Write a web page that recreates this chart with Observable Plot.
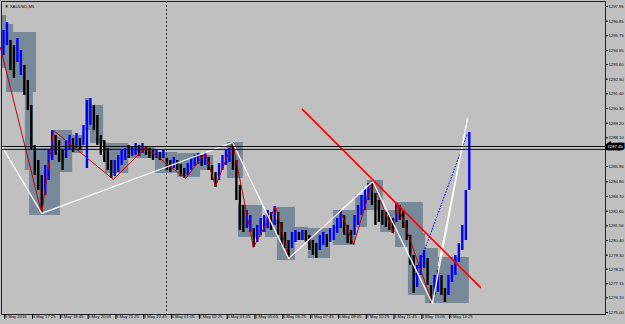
<!DOCTYPE html>
<html><head><meta charset="utf-8">
<script src="https://cdn.jsdelivr.net/npm/d3@7"></script>
<script src="https://cdn.jsdelivr.net/npm/@observablehq/plot@0.6"></script>
<style>
html,body{margin:0;padding:0;background:#c0c0c0;overflow:hidden;}
</style></head>
<body><div id="chart"></div>
<script>
// ---- data (XAUUSD M5, 2-bar aggregated) ----
const barHigh = [1296.15,1296.75,1295.40,1295.03,1295.55,1294.65,1293.53,1292.40,1290.53,1287.53,
1286.40,1285.28,1286.03,1287.15,1288.65,1288.28,1287.90,1287.15,1287.90,1288.28,
1288.05,1288.43,1288.05,1289.03,1290.90,1291.05,1290.53,1289.78,1288.28,1287.90,
1287.30,1286.40,1286.40,1286.78,1287.15,1287.30,1287.53,1287.45,1287.68,1287.53,
1287.68,1287.45,1287.30,1287.15,1287.23,1287.00,1287.15,1286.55,1286.40,1286.63,
1286.40,1286.10,1285.80,1286.18,1286.55,1286.78,1286.93,1286.78,1287.00,1286.63,
1286.03,1285.50,1286.18,1286.78,1287.15,1287.30,1287.75,1286.40,1284.53,1283.03,
1282.65,1282.28,1281.30,1281.53,1282.05,1282.28,1282.65,1282.50,1282.95,1282.50,
1281.75,1281.00,1280.40,1281.00,1281.15,1281.00,1281.15,1281.15,1280.78,1280.40,
1280.18,1280.78,1281.00,1280.85,1281.30,1281.53,1282.05,1282.65,1282.28,1281.53,
1281.15,1282.28,1283.03,1283.78,1284.30,1284.68,1284.83,1283.93,1283.40,1282.65,
1282.50,1282.28,1282.05,1283.18,1283.03,1282.65,1281.90,1280.78,1279.28,1278.53,
1279.28,1279.65,1279.05,1277.03,1277.78,1278.15,1277.78,1276.80,1277.78,1278.53,
1279.28,1280.18,1281.53,1284.15,1288.50];
const barLow = [1294.28,1295.03,1293.15,1292.55,1293.75,1292.78,1291.28,1290.15,1287.15,1285.28,
1284.15,1282.43,1283.78,1284.90,1286.40,1286.78,1286.25,1285.65,1286.55,1287.15,
1287.00,1287.30,1287.15,1287.53,1285.80,1289.03,1288.65,1287.53,1286.78,1286.25,
1285.65,1285.05,1285.20,1285.50,1286.03,1286.40,1286.55,1286.70,1286.78,1286.70,
1286.93,1286.78,1286.55,1286.40,1286.55,1286.40,1286.55,1285.65,1285.50,1285.80,
1285.65,1285.20,1285.05,1285.28,1285.65,1285.95,1286.10,1285.95,1286.03,1285.65,
1284.90,1284.38,1284.90,1285.65,1286.03,1286.25,1285.65,1283.40,1281.15,1281.00,
1281.30,1281.00,1279.88,1280.25,1280.78,1281.00,1281.30,1281.15,1281.53,1280.78,
1280.03,1279.80,1279.05,1279.80,1280.25,1280.40,1280.40,1280.25,1279.65,1279.28,
1279.05,1279.65,1280.03,1279.88,1280.25,1280.40,1280.93,1281.30,1280.78,1280.18,
1280.10,1280.78,1281.53,1282.28,1282.65,1283.40,1283.03,1281.53,1281.75,1281.53,
1281.38,1281.15,1280.93,1281.75,1281.90,1281.30,1280.40,1278.53,1276.43,1276.88,
1277.78,1278.30,1277.03,1275.68,1276.28,1276.50,1276.28,1275.75,1276.28,1277.25,
1277.78,1278.75,1279.65,1280.40,1284.15];
const barDir = ("uudduudddd"+"dduuuddduu"+"duduuudddd"+"dduuuuduud"+"udddududdu"+
  "ddduuuudud"+"dduuuudddd"+"uuduuuudud"+"ddduududdd"+"duuduuuudd"+
  "duuuuudddd"+"dddudddddu"+"uudduudduu"+"uuuuu").split("");

// shaded boxes: start bar, end bar, top price, bottom price
const boxStart  = [-0.3,0.9,2.9,6.3,7.5,14.1,18.4,23.6,25.0,29.3,35.7,43.7,50.1,56.1,64.4,67.6,75.4,78.8,84.0,87.7,94.9,101.3,104.7,108.5,112.8,116.5,121.4,125.1];
const boxEnd    = [0.9,2.9,9.5,8.6,16.4,19.9,23.0,25.0,28.8,36.0,43.7,50.1,56.7,60.4,69.0,74.5,78.8,84.0,87.7,94.1,101.3,104.7,109.3,112.8,120.8,121.4,125.1,134.0];
const boxTop    = [1297.28,1296.60,1296.00,1291.65,1287.30,1288.65,1288.28,1291.05,1290.53,1287.68,1287.38,1287.00,1286.93,1286.78,1287.75,1283.03,1281.90,1282.88,1281.38,1281.30,1282.65,1283.78,1284.90,1282.65,1283.25,1280.93,1279.80,1279.13];
const boxBottom = [1293.30,1291.50,1291.50,1285.65,1282.28,1285.50,1286.93,1288.65,1287.68,1285.43,1286.55,1285.43,1285.13,1285.65,1285.05,1280.63,1280.63,1278.90,1280.40,1279.05,1280.03,1281.38,1282.65,1281.00,1279.88,1276.28,1275.68,1275.68];

// zigzags [bar, price]
const zigRed = [[-0.9,1294.88],[11,1282.43],[14.4,1288.65],[31.6,1284.98],[40.9,1287.38],[52.4,1285.05],[58.1,1287.00],[61,1284.45],[65.9,1287.75],[71.9,1279.88],[78.3,1282.95],[82,1279.05],[96.9,1282.65],[100.7,1280.10],[106.2,1284.83],[112.2,1280.93],[113.3,1283.18],[123.4,1275.68]];
const zigWhite = [[-0.3,1287.38],[11,1282.43],[65.9,1287.75],[82,1279.05],[106.2,1284.83],[123.4,1275.68],[133.5,1289.55]];
const whiteLeg2 = [[125.1,1278.53],[133.5,1289.55]];
const blueDotted = [[117.7,1277.25],[133.5,1288.43]];
const trendRed = [[86.0,1290.23],[137.2,1276.88]];
const priceLines = [1287.45,1287.23];
const separatorBar = [46.9];

const yTicks = [1297.95,1296.85,1295.75,1294.65,1293.60,1292.50,1291.40,1290.30,1289.20,1288.10,1285.95,1284.80,1283.70,1282.60,1281.50,1280.40,1279.30,1278.25,1277.15,1276.10,1275.00];
const xTickBars = [0,8,16,24,32,40,48,56,64,72,80,88,96,104,112,120,128];
const xTickLabels = ["3 May 2016","3 May 17:25","3 May 18:45","3 May 20:05","3 May 21:25","3 May 22:45","4 May 01:05","4 May 02:25","4 May 03:45","4 May 05:05","4 May 06:25","4 May 07:45","4 May 09:05","4 May 10:25","4 May 11:45","4 May 13:05","4 May 14:25"];

// ---- build ----
const bars = barHigh.map((h, i) => ({i, hi: h, lo: barLow[i], dir: barDir[i]}));
const boxes = boxStart.map((s, k) => ({x1: s, x2: boxEnd[k], y1: boxTop[k], y2: boxBottom[k]}));
const labelOf = new Map(xTickBars.map((b, k) => [b, xTickLabels[k]]));
const FONT = "'Liberation Sans',Arial,sans-serif";
const FS = 4.2;

const chart = Plot.plot({
  width: 625, height: 324,
  marginLeft: 1, marginRight: 20, marginTop: 1, marginBottom: 10,
  style: {background: "#c0c0c0", fontFamily: FONT, fontSize: FS + "px", color: "#000"},
  x: {type: "linear", domain: [-0.575, 173.19]},
  y: {type: "linear", domain: [1274.85, 1298.325]},
  marks: [
    Plot.rect(boxes, {x1: "x1", x2: "x2", y1: "y1", y2: "y2", fill: "#778899"}),
    Plot.ruleX(separatorBar, {stroke: "#333", strokeDasharray: "2,2", strokeWidth: 1}),
    Plot.ruleX(bars.filter(d => d.dir === "d"), {x: "i", y1: "lo", y2: "hi", stroke: "#000", strokeWidth: 2.4}),
    Plot.ruleX(bars.filter(d => d.dir === "u"), {x: "i", y1: "lo", y2: "hi", stroke: "#0000ff", strokeWidth: 2.4}),
    Plot.line(zigRed, {x: d => d[0], y: d => d[1], stroke: "#c00000", strokeWidth: 1}),
    Plot.line(blueDotted, {x: d => d[0], y: d => d[1], stroke: "#0000ff", strokeWidth: 1, strokeDasharray: "1,2"}),
    Plot.line(zigWhite, {x: d => d[0], y: d => d[1], stroke: "#ffffff", strokeWidth: 1.3}),
    Plot.line(whiteLeg2, {x: d => d[0], y: d => d[1], stroke: "#ffffff", strokeWidth: 1}),
    Plot.line(trendRed, {x: d => d[0], y: d => d[1], stroke: "#ff0000", strokeWidth: 1.6}),
    Plot.ruleY(priceLines, {stroke: "#111", strokeWidth: 1}),
    Plot.frame({stroke: "#222", strokeWidth: 1}),
    Plot.axisY(yTicks, {anchor: "right", tickSize: 2, tickPadding: 1, tickFormat: d => d.toFixed(2), label: null, fontSize: FS}),
    Plot.axisX(xTickBars, {anchor: "bottom", tickSize: 5, tickPadding: -4, dx: 1.2, textAnchor: "start", tickFormat: d => labelOf.get(d), label: null, fontSize: FS}),
    Plot.text([priceLines[0]], {y: d => d, frameAnchor: "right", dx: 2, textAnchor: "start", text: d => d.toFixed(2), fill: "#fff", stroke: "#000", strokeWidth: 4.5, strokeLinejoin: "miter", fontSize: FS}),
    Plot.text(["▼ XAUUSD,M5"], {frameAnchor: "top-left", dx: 3, dy: 4, fill: "#000", fontSize: FS})
  ]
});
document.getElementById("chart").appendChild(chart);
</script></body></html>
